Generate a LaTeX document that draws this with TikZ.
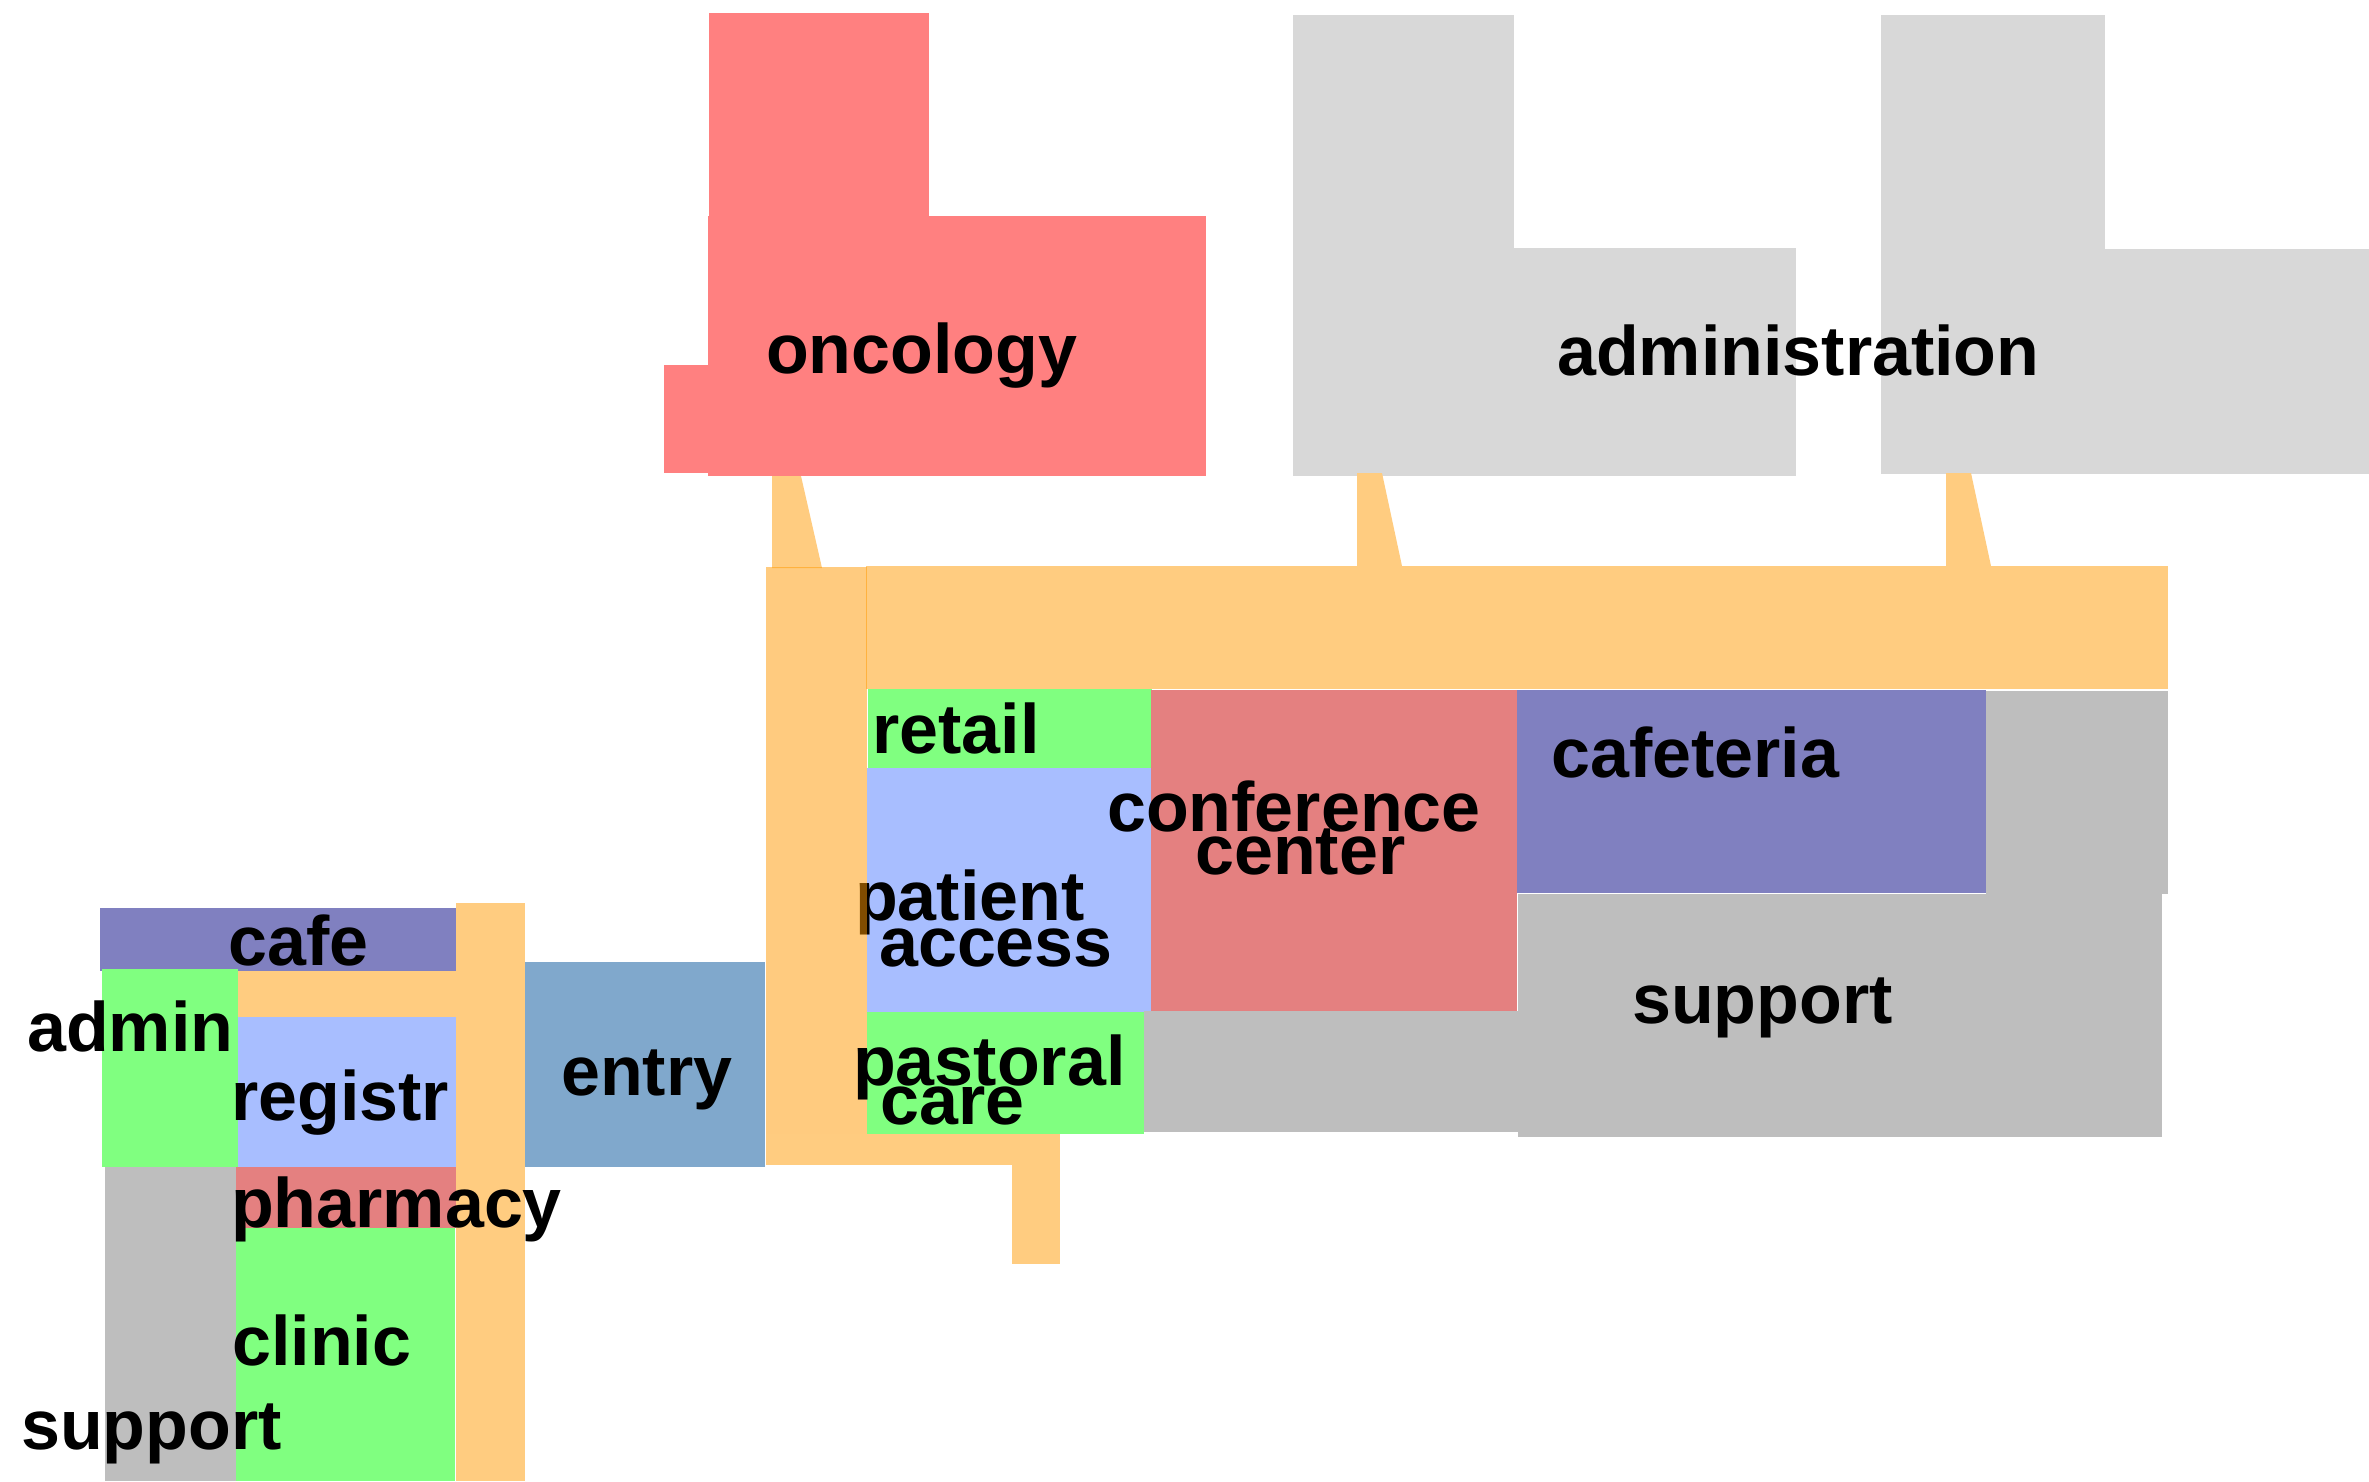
\documentclass[tikz,border=0pt]{standalone}
\usepackage{fontspec}
\setmainfont{Liberation Sans}
\begin{document}
\begin{tikzpicture}[x=1pt,y=-1pt,
  lbl/.style={anchor=base west,inner sep=0pt,font=\fontsize{70}{70}\selectfont\bfseries},
  onc/.style={fill=onccol},
  adm/.style={fill=admcol},
  cor/.style={fill=corcol},
  grn/.style={fill=grncol},
  blu/.style={fill=blucol},
  red/.style={fill=redcol},
  pur/.style={fill=purcol},
  gry/.style={fill=grycol},
  ent/.style={fill=entcol}]
\definecolor{onccol}{RGB}{255,128,128}
\definecolor{admcol}{RGB}{216,216,216}
\definecolor{corcol}{RGB}{255,204,128}
\definecolor{corbase}{RGB}{255,153,0}
\definecolor{grncol}{RGB}{128,255,128}
\definecolor{blucol}{RGB}{168,190,255}
\definecolor{redcol}{RGB}{228,128,128}
\definecolor{purcol}{RGB}{128,128,192}
\definecolor{grycol}{RGB}{190,190,190}
\definecolor{entcol}{RGB}{128,168,204}
\useasboundingbox (0,0) rectangle (2369,1481);
\fill[white] (0,0) rectangle (2369,1481);
% oncology
\fill[onc] (709,13) rectangle (929,216);
\fill[onc] (708,216) rectangle (1206,476);
\fill[onc] (664,365) rectangle (708,473);
% administration
\fill[adm] (1293,15) rectangle (1514,248);
\fill[adm] (1293,248) rectangle (1796,476);
\fill[adm] (1881,15) rectangle (2105,249);
\fill[adm] (1881,249) rectangle (2369,474);
% links
\fill[cor] (772,476) -- (801,476) -- (822,568) -- (772,568) -- cycle;
\fill[cor] (1357,473) -- (1382,473) -- (1402,566) -- (1357,566) -- cycle;
\fill[cor] (1946,473) -- (1971,473) -- (1991,566) -- (1946,566) -- cycle;
% corridors
\fill[cor] (866,566) rectangle (2168,689);
\fill[cor] (766,1134) rectangle (1060,1165);
\fill[cor] (1012,1165) rectangle (1060,1264);
% rooms main block
\fill[grn] (868,689) rectangle (1152,768);
\fill[blu] (867,768) rectangle (1151,1012);
\fill[red] (1151,690) rectangle (1517,1011);
\fill[grn] (867,1012) rectangle (1144,1134);
\fill[gry] (1144,1011) rectangle (1518,1132);
\fill[pur] (1517,690) rectangle (1986,893);
\fill[gry] (1986,691) rectangle (2168,894);
\fill[gry] (1518,894) rectangle (2162,1137);
% left block
\fill[pur] (100,908) rectangle (456,971);
\fill[grn] (102,969) rectangle (238,1167);
\fill[cor] (238,971) rectangle (457,1017);
\fill[blu] (238,1017) rectangle (458,1167);
\fill[cor] (456,903) rectangle (525,1481);
\fill[ent] (525,962) rectangle (765,1167);
\fill[red] (235,1167) rectangle (456,1228);
\fill[grn] (236,1228) rectangle (455,1481);
\fill[gry] (105,1167) rectangle (236,1481);
% text under the translucent corridor
\node[lbl] (tpatient) at (855,920) {patient};
\fill[corbase,opacity=0.5] (766,567) rectangle (867,1134);
% labels
\node[lbl] (tonc) at (766,373) {oncology};
\node[lbl] (tadm) at (1557,375) {administration};
\node[lbl] (tretail) at (872,753) {retail};
\node[lbl] (tconf) at (1107,831) {conference};
\node[lbl] (tcenter) at (1195,874) {center};
\node[lbl] (tcafeteria) at (1551,777) {cafeteria};
\node[lbl] (taccess) at (879,966) {access};
\node[lbl] (tpastoral) at (853,1085) {pastoral};
\node[lbl] (tcare) at (880,1124) {care};
\node[lbl] (tsupport) at (1632,1023) {support};
\node[lbl] (tcafe) at (228,965) {cafe};
\node[lbl] (tadmin) at (27,1051) {admin};
\node[lbl] (tregistr) at (231,1120) {registr};
\node[lbl] (tentry) at (561,1095) {entry};
\node[lbl] (tpharmacy) at (231,1227) {pharmacy};
\node[lbl] (tclinic) at (232,1365) {clinic};
\node[lbl] (tsupportl) at (21,1449) {support};
\end{tikzpicture}
\end{document}
